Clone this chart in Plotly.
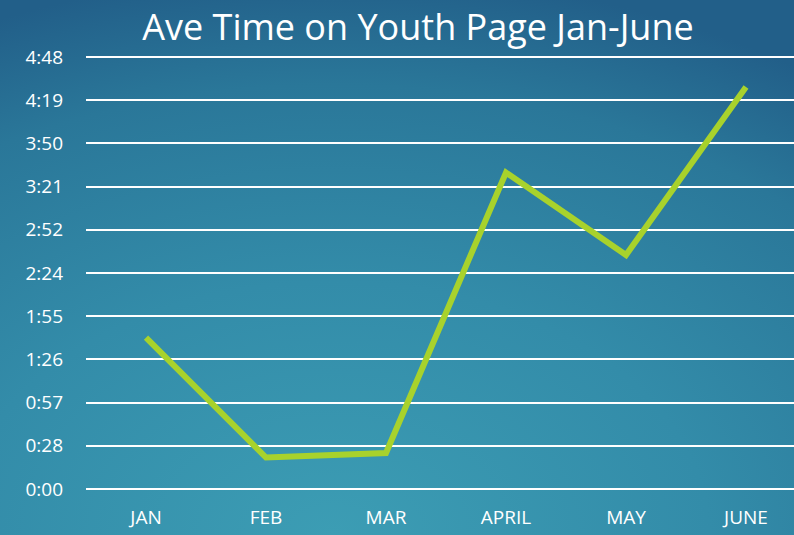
import base64
import plotly.graph_objects as go

months = ["JAN", "FEB", "MAR", "APRIL", "MAY", "JUNE"]
ave_seconds = [101, 21, 24, 211, 156, 268]
tick_seconds = [0, 28.8, 57.6, 86.4, 115.2, 144, 172.8, 201.6, 230.4, 259.2, 288]
tick_labels = ["0:00", "0:28", "0:57", "1:26", "1:55", "2:24", "2:52", "3:21", "3:50", "4:19", "4:48"]

W, H = 794, 535
PL, PT, PW, PH = 86, 57, 708, 432

svg = f'''<svg xmlns="http://www.w3.org/2000/svg" width="{W}" height="{H}" viewBox="0 0 {W} {H}" preserveAspectRatio="none">
<defs>
<radialGradient id="g" cx="0.42" cy="1.0" r="1.05" gradientUnits="objectBoundingBox">
<stop offset="0" stop-color="#3c9db4"/>
<stop offset="0.45" stop-color="#338ca9"/>
<stop offset="0.8" stop-color="#2a7799"/>
<stop offset="1" stop-color="#225f89"/>
</radialGradient>
</defs>
<rect width="{W}" height="{H}" fill="url(#g)"/>
</svg>'''
bg_uri = "data:image/svg+xml;base64," + base64.b64encode(svg.encode()).decode()

fig = go.Figure()
fig.add_trace(go.Scatter(
    x=list(range(len(months))), y=ave_seconds, mode="lines",
    line=dict(color="#a8d22c", width=6),
    hoverinfo="skip", showlegend=False,
))

fig.update_layout(
    width=W, height=H,
    margin=dict(l=PL, r=W - PL - PW, t=PT - 1, b=H - PT - PH),
    paper_bgcolor="#2f84a3",
    plot_bgcolor="rgba(0,0,0,0)",
    font=dict(family="'Open Sans', sans-serif", color="white"),
    title=dict(text="Ave Time on Youth Page Jan-June", x=418 / W, xref="container",
               xanchor="center", y=1 - 27 / H, yref="container", yanchor="middle",
               font=dict(size=36, color="white", family="'Open Sans', sans-serif")),
    images=[dict(source=bg_uri, xref="paper", yref="paper", x=-PL / PW, y=1 + PT / PH,
                 sizex=W / PW, sizey=H / PH, xanchor="left", yanchor="top",
                 sizing="stretch", layer="below")],
    xaxis=dict(tickmode="array", tickvals=list(range(len(months))), ticktext=months,
               range=[-0.5, -0.5 + PW / 120], showgrid=False, zeroline=False,
               showline=False, ticks="", tickfont=dict(size=19, color="white"),
               ticklabelstandoff=15),
    yaxis=dict(tickmode="array", tickvals=tick_seconds, ticktext=tick_labels,
               range=[0, 288.7], showgrid=True, gridcolor="white", gridwidth=2,
               zeroline=True, zerolinecolor="white", zerolinewidth=2,
               showline=False, ticks="", tickfont=dict(size=19, color="white"),
               ticklabelstandoff=22),
)

fig.write_html("out.html", config={"displayModeBar": False},
               post_script="document.body.style.margin='0';document.body.style.overflow='hidden';")
